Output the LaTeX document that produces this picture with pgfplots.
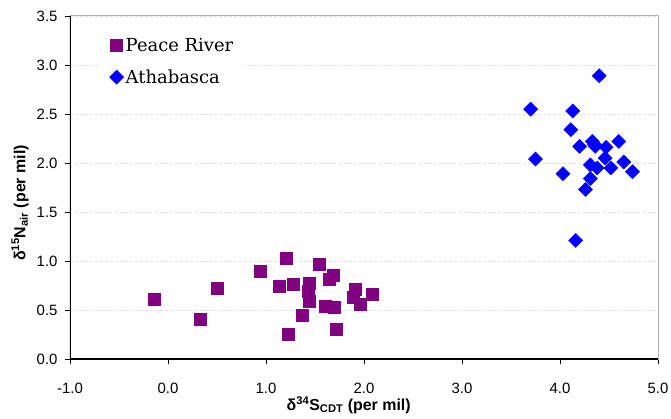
\documentclass[border=0pt]{standalone}
\usepackage{pgfplots}
\pgfplotsset{compat=1.18}
\usepackage{fontspec}
\setmainfont{Liberation Sans}
\newfontfamily\legfont{DejaVu Serif}

% sample data
\pgfplotstableread{
x y
-0.14 0.61
0.33 0.41
0.50 0.72
0.94 0.90
1.13 0.74
1.21 1.03
1.28 0.76
1.23 0.25
1.37 0.45
1.44 0.77
1.43 0.69
1.44 0.59
1.54 0.97
1.60 0.54
1.64 0.81
1.69 0.86
1.70 0.53
1.72 0.30
1.91 0.71
1.89 0.63
1.96 0.56
2.08 0.66
}\peace

\pgfplotstableread{
x y
4.40 2.89
3.70 2.55
4.13 2.53
4.11 2.34
4.20 2.17
4.33 2.22
4.36 2.17
4.47 2.16
4.60 2.22
3.75 2.04
4.46 2.05
4.65 2.01
4.31 1.98
4.38 1.95
4.52 1.95
4.74 1.91
4.03 1.89
4.31 1.84
4.26 1.73
4.16 1.21
4.35 2.19
}\athab

\begin{document}
\begin{tikzpicture}
\begin{axis}[
  name=ax,
  scale only axis,
  width=588bp, height=343bp,
  xmin=-1, xmax=5, ymin=0, ymax=3.5,
  xtick={-1,0,...,5},
  ytick={0,0.5,...,3.5},
  xtick pos=bottom, ytick pos=left,
  tick align=outside,
  major tick length=5bp,
  tick style={black, line width=0.8pt},
  ymajorgrids,
  grid style={gray!25, densely dashed, line width=0.8pt},
  axis line style={gray!60, line width=1pt},
  /pgf/number format/assume math mode=true,
  /pgf/number format/.cd, fixed, fixed zerofill, precision=1,
  /pgfplots/.cd,
  ticklabel style={font=\fontsize{15}{17}\selectfont},
  xticklabel style={yshift=-16bp},
  yticklabel style={xshift=-4bp},
  xlabel={\textbf{δ\textsuperscript{34}S\textsubscript{CDT} (per mil)}},
  ylabel={\textbf{δ\textsuperscript{15}N\textsubscript{air} (per mil)}},
  label style={font=\fontsize{16}{18}\selectfont},
  xlabel style={at={(axis description cs:0.474,-0.134)}, anchor=center},
  ylabel style={at={(axis description cs:-0.085,0.455)}, anchor=center},
  legend style={at={(0.05,0.96)}, anchor=north west, draw=none, fill=white,
    font=\legfont\fontsize{18}{21}\selectfont, row sep=13bp,
    inner xsep=10bp, inner ysep=6bp},
  legend cell align=left,
]
\addplot[only marks, mark=square*, mark size=6bp, color={rgb,255:red,128;green,0;blue,128}] table {\peace};
\addlegendentry{Peace River}
\addplot[only marks, mark=square*, mark size=5bp, mark options={rotate=45}, color={rgb,255:red,0;green,0;blue,255}] table {\athab};
\addlegendentry{Athabasca}
\draw[black, line width=1.2pt] (rel axis cs:0,1) -- (rel axis cs:0,0) -- (rel axis cs:1,0);
\end{axis}
\pgfresetboundingbox
\path[use as bounding box] ([shift={(-70bp,-60bp)}]ax.south west) rectangle ([shift={(13bp,16bp)}]ax.north east);
\end{tikzpicture}
\end{document}
